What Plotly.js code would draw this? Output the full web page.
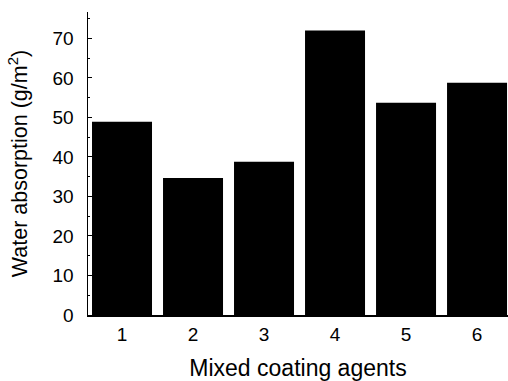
<!DOCTYPE html>
<html>
<head>
<meta charset="utf-8">
<script src="https://cdn.plot.ly/plotly-3.0.1.min.js"></script>
<style>html,body{margin:0;padding:0;background:#fff;}#chart{width:508px;height:381px;}</style>
</head>
<body>
<div id="chart"></div>
<script>
const categories = [1, 2, 3, 4, 5, 6];
const tickLabels = ["1", "2", "3", "4", "5", "6"];
const waterAbsorption = [48.9, 34.7, 38.8, 72.0, 53.7, 58.8];

const trace = {
  type: 'bar',
  x: categories,
  y: waterAbsorption,
  marker: {color: '#000000', line: {width: 0}},
  hoverinfo: 'x+y'
};

const fontFam = 'Arial, "Liberation Sans", sans-serif';

const layout = {
  width: 508,
  height: 381,
  margin: {l: 88, r: 0, t: 12, b: 66},
  paper_bgcolor: '#ffffff',
  plot_bgcolor: '#ffffff',
  showlegend: false,
  bargap: 0.155,
  font: {family: fontFam, size: 19, color: '#000000'},
  xaxis: {
    automargin: false,
    range: [0.521, 6.436],
    tickmode: 'array',
    tickvals: categories,
    ticktext: tickLabels,
    showgrid: false,
    zeroline: false,
    showline: true,
    linecolor: '#000000',
    linewidth: 1.5,
    ticks: '',
    tickfont: {family: fontFam, size: 19, color: '#000000'},
    ticklabelstandoff: 2,
    title: {text: 'Mixed coating agents', font: {family: fontFam, size: 23, color: '#000000'}, standoff: 16}
  },
  yaxis: {
    automargin: false,
    range: [0, 76.7],
    tickmode: 'linear',
    tick0: 0,
    dtick: 10,
    showgrid: false,
    zeroline: false,
    showline: true,
    linecolor: '#000000',
    linewidth: 1.5,
    ticks: 'inside',
    ticklen: 4,
    tickwidth: 1,
    tickcolor: '#000000',
    minor: {dtick: 5, ticks: 'inside', ticklen: 2, tickcolor: '#000000', showgrid: false},
    tickfont: {family: fontFam, size: 19, color: '#000000'},
    ticklabelstandoff: 9,
    title: {text: 'Water absorption (g/m<sup>2</sup>)\u00a0\u00a0\u00a0\u00a0\u00a0', font: {family: fontFam, size: 21.5, color: '#000000'}, standoff: 19}
  }
};

Plotly.newPlot('chart', [trace], layout, {displayModeBar: false, staticPlot: true});
</script>
</body>
</html>
